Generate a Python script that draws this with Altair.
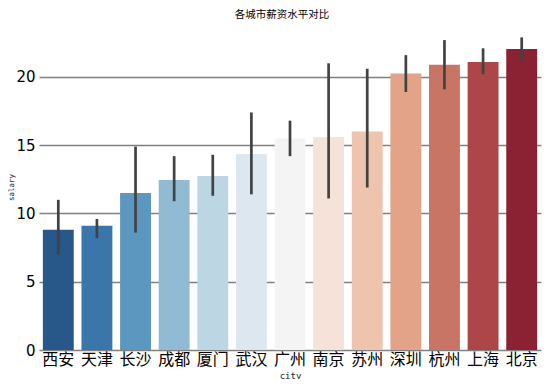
import altair as alt
import pandas as pd

cities = ["西安", "天津", "长沙", "成都", "厦门", "武汉", "广州", "南京", "苏州", "深圳", "杭州", "上海", "北京"]
salary = [8.8, 9.1, 11.5, 12.45, 12.75, 14.35, 15.5, 15.6, 16.0, 20.25, 20.9, 21.1, 22.05]
err_lo = [7.0, 8.2, 8.6, 10.9, 11.3, 11.4, 14.2, 11.1, 11.9, 18.9, 19.1, 20.2, 21.2]
err_hi = [11.0, 9.6, 14.9, 14.2, 14.3, 17.4, 16.8, 21.0, 20.6, 21.6, 22.7, 22.1, 22.9]
colors = ["#28578A", "#3B76AB", "#5C97BF", "#90BBD2", "#BCD6E4", "#DCE7EF", "#F4F4F4",
          "#F5E2D9", "#EFC4AF", "#E2A389", "#C97565", "#AD4649", "#8A2233"]

df = pd.DataFrame({"city": cities, "salary": salary, "lo": err_lo, "hi": err_hi})

xenc = alt.X("city:N", sort=cities, title="city",
             scale=alt.Scale(paddingInner=0.2, paddingOuter=0.1),
             axis=alt.Axis(labelAngle=0, labelFontSize=16, labelFont="Noto Sans CJK SC",
                           labelColor="#000000", labelPadding=1, ticks=False, domain=False,
                           titleFontSize=9, titleFont="DejaVu Sans Mono", titleFontWeight="normal",
                           titleColor="#222222", titlePadding=4))

bars = alt.Chart(df).mark_bar().encode(
    x=xenc,
    y=alt.Y("salary:Q", title="salary",
            scale=alt.Scale(domain=[0, 23.88], nice=False, zero=True),
            axis=alt.Axis(values=[0, 5, 10, 15, 20], labelFontSize=15, labelFont="DejaVu Sans",
                          labelColor="#000000", labelPadding=4, ticks=False, domain=False,
                          grid=True, gridColor="#808080", gridWidth=1.3,
                          titleFontSize=7.5, titleFont="DejaVu Sans Mono", titleFontWeight="normal",
                          titleColor="#222222", titleX=-24, titleY=163, titleBaseline="bottom")),
    color=alt.Color("city:N", sort=cities, scale=alt.Scale(domain=cities, range=colors), legend=None),
)

errs = alt.Chart(df).mark_rule(color="#424242", strokeWidth=2.7).encode(
    x=alt.X("city:N", sort=cities),
    y="lo:Q",
    y2="hi:Q",
)

chart = alt.layer(bars, errs).properties(
    width=502,
    height=326,
    title=alt.TitleParams("各城市薪资水平对比", font="Noto Sans CJK SC", fontSize=10.5,
                          fontWeight="normal", color="#000000", offset=4, anchor="middle", dx=-8),
    autosize=alt.AutoSizeParams(type="none"),
    padding={"left": 31, "top": 16, "right": 1, "bottom": 29},
).configure_view(strokeWidth=0)

chart.save("out.html", embed_options={"renderer": "svg", "actions": False})
